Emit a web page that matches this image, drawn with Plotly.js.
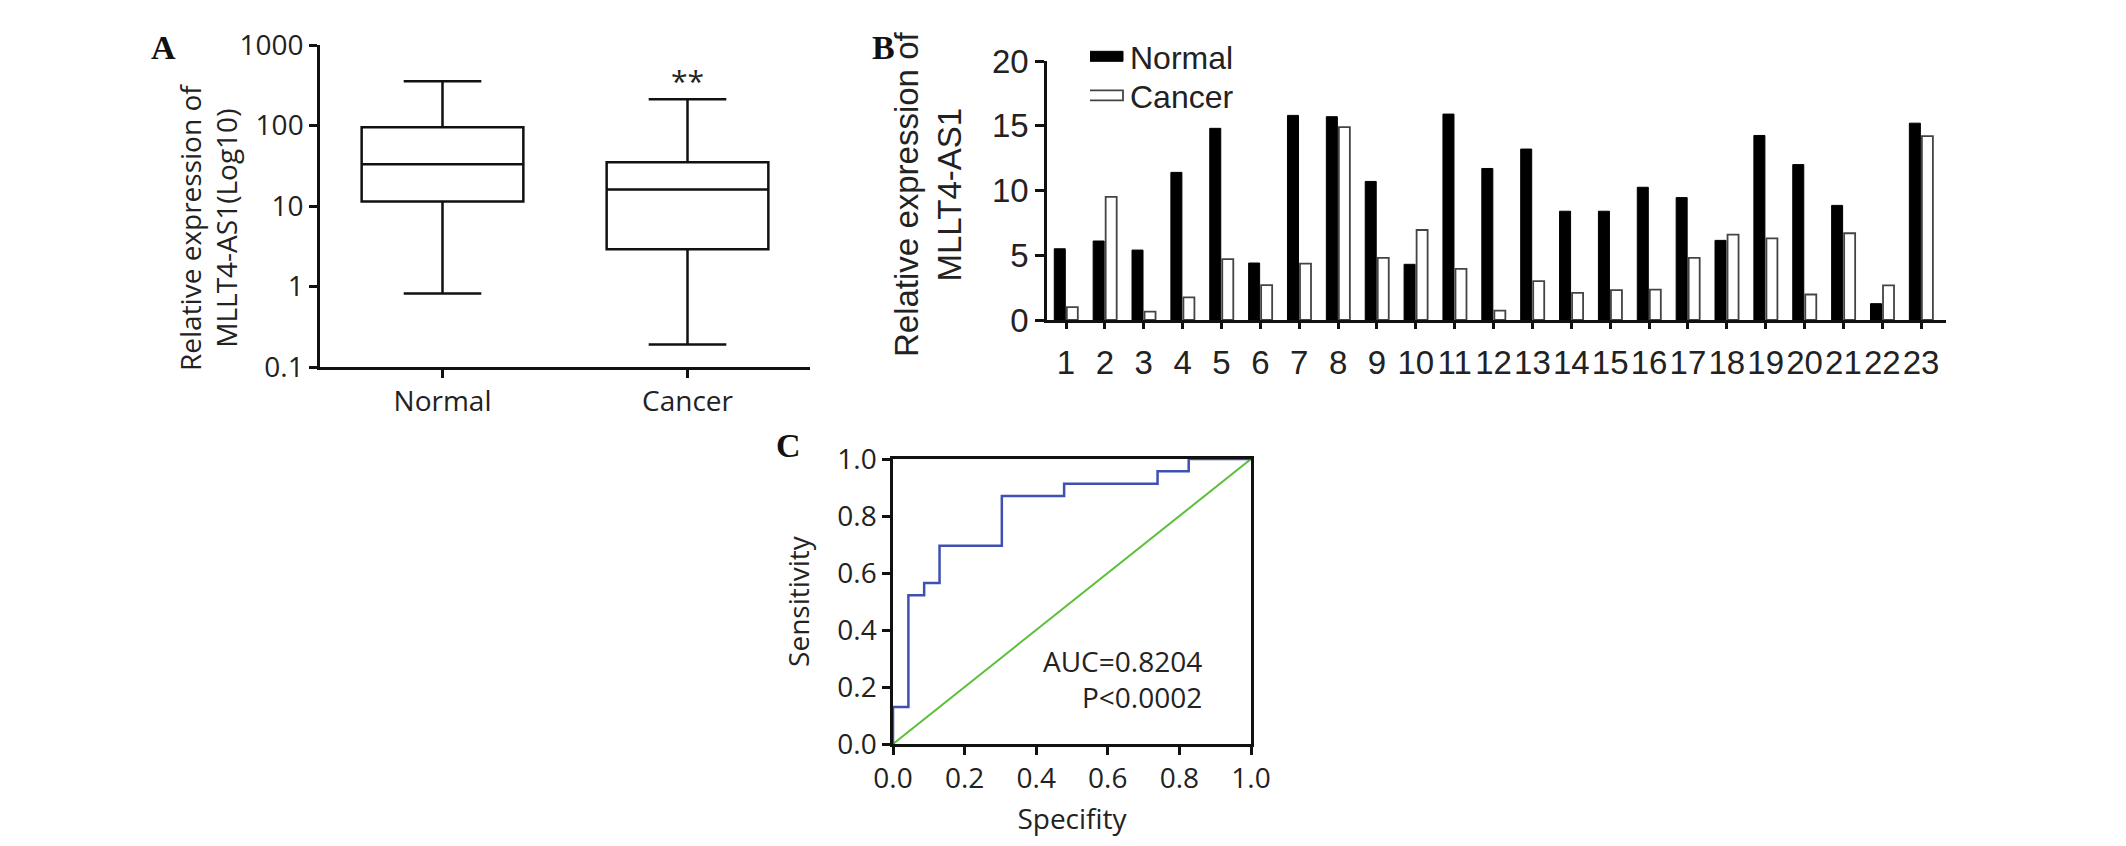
<!DOCTYPE html>
<html>
<head>
<meta charset="utf-8">
<script src="https://cdn.plot.ly/plotly-3.0.1.min.js"></script>
<style>
  html, body { margin: 0; padding: 0; background: #fff; }
  #chart { width: 2126px; height: 846px; }
</style>
</head>
<body>
<div id="chart"></div>
<script>
/***** data *****/
// A: box plot (log scale), stats
var boxGroups = ['Normal', 'Cancer'];
var boxLow = [0.82, 0.19];
var boxQ1 = [11.4, 2.9];
var boxMedian = [33, 16];
var boxQ3 = [95, 35];
var boxHigh = [355, 212];
var logTicks = [0.1, 1, 10, 100, 1000];
var logTickText = ['0.1', '1', '10', '100', '1000'];

// B: paired bars per sample
var samples = ['1', '2', '3', '4', '5', '6', '7', '8', '9', '10', '11', '12',
  '13', '14', '15', '16', '17', '18', '19', '20', '21', '22', '23'];
var normalExpr = [5.5, 6.1, 5.4, 11.4, 14.8, 4.4, 15.8, 15.7, 10.7, 4.3, 15.9, 11.7,
  13.2, 8.4, 8.4, 10.25, 9.45, 6.15, 14.25, 12.0, 8.85, 1.26, 15.2];
var cancerExpr = [1.0, 9.5, 0.64, 1.74, 4.7, 2.7, 4.36, 14.9, 4.8, 6.95, 3.95, 0.72,
  3.0, 2.1, 2.3, 2.35, 4.8, 6.6, 6.3, 1.97, 6.7, 2.67, 14.2];

// C: ROC curve corners
var rocX = [0, 0.043, 0.087, 0.130, 0.304, 0.478, 0.739, 0.826, 1];
var rocY = [0, 0.130, 0.522, 0.565, 0.696, 0.870, 0.913, 0.957, 1];
var refLine = [0, 1];
var unitTicks = [0, 0.2, 0.4, 0.6, 0.8, 1.0];


/***** helpers: pixel -> paper *****/
var W = 2126, H = 846;
function px(x) { return x / W; }
function py(y) { return 1 - y / H; }

var ink = '#222';
var sans = 'Open Sans, sans-serif';
var arial = 'Liberation Sans, Arial, sans-serif';
var serif = 'Liberation Serif, Times New Roman, serif';


/***** traces *****/
var box = {
  type: 'box',
  x: boxGroups,
  lowerfence: boxLow,
  q1: boxQ1,
  median: boxMedian,
  q3: boxQ3,
  upperfence: boxHigh,
  fillcolor: '#fff',
  line: { color: '#111', width: 2.5 },
  whiskerwidth: 0.48,
  showlegend: false,
  hoverinfo: 'skip',
  xaxis: 'x',
  yaxis: 'y'
};

var normalBars = {
  type: 'bar',
  name: 'Normal',
  x: samples,
  y: normalExpr,
  marker: { color: '#000', line: { color: '#000', width: 1 } },
  xaxis: 'x2',
  yaxis: 'y2'
};

var cancerBars = {
  type: 'bar',
  name: 'Cancer',
  x: samples,
  y: cancerExpr,
  marker: { color: '#fff', line: { color: '#444', width: 1.8 } },
  xaxis: 'x2',
  yaxis: 'y2'
};

var roc = {
  type: 'scatter',
  mode: 'lines',
  x: rocX,
  y: rocY,
  line: { color: '#4050b0', width: 2.5, shape: 'vh' },
  showlegend: false,
  xaxis: 'x3',
  yaxis: 'y3'
};

var diag = {
  type: 'scatter',
  mode: 'lines',
  x: refLine,
  y: refLine,
  line: { color: '#5cbf3a', width: 2 },
  showlegend: false,
  xaxis: 'x3',
  yaxis: 'y3'
};

var data = [box, normalBars, cancerBars, diag, roc];


/***** layout *****/
function axisBase(font) {
  return {
    showline: true,
    linecolor: '#111',
    linewidth: 2.5,
    ticks: 'outside',
    tickcolor: '#111',
    tickwidth: 2.5,
    ticklen: 8,
    showgrid: false,
    zeroline: false,
    fixedrange: true,
    tickfont: font
  };
}

var fontA = { family: sans, size: 28, color: ink };
var fontB = { family: arial, size: 33, color: ink };
var fontPanel = { family: serif, size: 34, color: '#111' };

function panelLabel(letter, x, y) {
  return { text: '<b>' + letter + '</b>', xref: 'paper', yref: 'paper',
    x: px(x), y: py(y), xanchor: 'center', yanchor: 'middle',
    showarrow: false, font: fontPanel };
}

function sideTitle(text, x, y, font) {
  return { text: text, xref: 'paper', yref: 'paper', x: px(x), y: py(y),
    xanchor: 'center', yanchor: 'middle', textangle: -90,
    showarrow: false, font: font };
}

var layout = {
  width: W,
  height: H,
  margin: { l: 0, r: 0, t: 0, b: 0 },
  paper_bgcolor: '#fff',
  plot_bgcolor: 'rgba(0,0,0,0)',
  showlegend: true,
  barmode: 'group',
  bargap: 0.356,
  bargroupgap: 0.12,
  boxgap: 0.34,
  boxgroupgap: 0,
  legend: {
    x: px(1090), y: py(29),
    xanchor: 'left', yanchor: 'top',
    font: { family: arial, size: 32, color: ink },
    bgcolor: 'rgba(0,0,0,0)',
    tracegroupgap: 0,
    itemwidth: 30
  },
  annotations: [
    panelLabel('A', 163, 48),
    panelLabel('B', 883, 47),
    panelLabel('C', 788, 445),
    sideTitle('Relative expression of<br>MLLT4-AS1(Log10)', 208, 228, fontA),
    sideTitle('Relative expression of<br>MLLT4-AS1', 928, 195, fontB),
    { text: '**', xref: 'x', yref: 'y', x: 'Cancer', y: 2.56,
      xanchor: 'center', yanchor: 'middle',
      showarrow: false, font: { family: sans, size: 30, color: ink } },
    { text: 'AUC=0.8204<br>P&lt;0.0002', xref: 'x3', yref: 'y3', x: 0.87, y: 0.228,
      xanchor: 'right', yanchor: 'middle', align: 'right', showarrow: false, font: fontA }
  ]
};

// A
layout.xaxis = Object.assign(axisBase(fontA), {
  domain: [px(320), px(810)], anchor: 'y',
  type: 'category', range: [-0.5, 1.5]
});
layout.yaxis = Object.assign(axisBase(fontA), {
  domain: [py(367), py(45)], anchor: 'x',
  type: 'log', range: [-1, 3],
  tickvals: logTicks, ticktext: logTickText
});

// B
layout.xaxis2 = Object.assign(axisBase(fontB), {
  domain: [px(1047), px(1946)], anchor: 'y2',
  type: 'category', range: [-0.49, 22.64],
  tickmode: 'array', tickvals: samples, tickangle: 0,
  ticklen: 6, tickwidth: 3, ticklabelstandoff: 6
});
layout.yaxis2 = Object.assign(axisBase(fontB), {
  domain: [py(320), py(61)], anchor: 'x2',
  range: [0, 20], dtick: 5, ticklen: 9
});

// C
layout.xaxis3 = Object.assign(axisBase(fontA), {
  domain: [px(893), px(1251)], anchor: 'y3',
  range: [0, 1], tickvals: unitTicks, tickformat: '.1f', mirror: true,
  title: { text: 'Specifity', font: fontA, standoff: 15 }
});
layout.yaxis3 = Object.assign(axisBase(fontA), {
  domain: [py(744), py(459)], anchor: 'x3',
  range: [0, 1], tickvals: unitTicks, tickformat: '.1f', mirror: true,
  title: { text: 'Sensitivity', font: fontA, standoff: 20 }
});

var config = {
  displayModeBar: false,
  responsive: false
};

Plotly.newPlot('chart', data, layout, config).then(function (gd) {
  // wide flat legend swatches like the original figure
  gd.querySelectorAll('.legend .legendpoints path').forEach(function (p) {
    p.setAttribute('d', 'M-27,5H13V-5H-27Z');
  });
  // tighter legend rows (Plotly spaces them by font height)
  var items = gd.querySelectorAll('.legend .traces');
  if (items.length > 1) {
    var m = /translate\(([-\d.]+),\s*([-\d.]+)\)/.exec(items[0].getAttribute('transform'));
    if (m) {
      items[1].setAttribute('transform',
        'translate(' + m[1] + ',' + (parseFloat(m[2]) + 39) + ')');
    }
  }
});
</script>
</body>
</html>
